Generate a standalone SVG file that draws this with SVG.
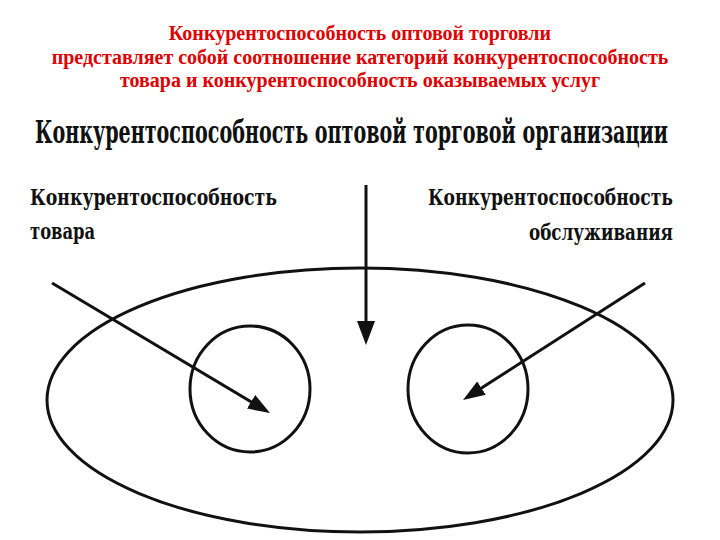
<svg xmlns="http://www.w3.org/2000/svg" width="720" height="540" viewBox="0 0 720 540">
<defs>
<style>
.title{font-family:"Liberation Serif","Times New Roman",serif;font-weight:bold;font-size:20px;fill:#e00000;text-anchor:middle}
.head{font-family:"DejaVu Serif","Liberation Serif",serif;font-weight:bold;font-stretch:condensed;font-size:32px;fill:#111}
.lbl{font-family:"DejaVu Serif","Liberation Serif",serif;font-weight:bold;font-stretch:condensed;font-size:23px;fill:#111}
.shape{fill:none;stroke:#111;stroke-width:3}
.conn{fill:none;stroke:#111;stroke-width:3}
</style>
<marker id="tri" markerUnits="userSpaceOnUse" markerWidth="22" markerHeight="18" refX="12" refY="9" orient="auto">
<path d="M0,1 L22,9 L0,17 z" fill="#111"/>
</marker>
<marker id="triLong" markerUnits="userSpaceOnUse" markerWidth="24" markerHeight="18" refX="12" refY="9" orient="auto">
<path d="M0,0 L24,9 L0,18 z" fill="#111"/>
</marker>
</defs>
<rect width="720" height="540" fill="#fff"/>
<g id="title">
<text class="title" x="360" y="40">Конкурентоспособность оптовой торговли</text>
<text class="title" x="360" y="64">представляет собой соотношение категорий конкурентоспособность</text>
<text class="title" x="360" y="87">товара и конкурентоспособность оказываемых услуг</text>
</g>
<g id="heading">
<text class="head" x="35" y="143" textLength="633" lengthAdjust="spacingAndGlyphs">Конкурентоспособность оптовой торговой организации</text>
</g>
<g id="label-goods">
<text class="lbl" x="30" y="205" textLength="247" lengthAdjust="spacingAndGlyphs">Конкурентоспособность</text>
<text class="lbl" x="30" y="239" textLength="65" lengthAdjust="spacingAndGlyphs">товара</text>
</g>
<g id="label-service">
<text class="lbl" x="428" y="205" textLength="245" lengthAdjust="spacingAndGlyphs">Конкурентоспособность</text>
<text class="lbl" x="529" y="240" textLength="144" lengthAdjust="spacingAndGlyphs">обслуживания</text>
</g>
<g id="org">
<ellipse class="shape" cx="360" cy="400" rx="313" ry="132"/>
</g>
<g id="goods">
<ellipse class="shape" cx="250" cy="389" rx="60" ry="63"/>
</g>
<g id="service">
<ellipse class="shape" cx="468" cy="389" rx="60" ry="64"/>
</g>
<g id="connectors">
<line class="conn" x1="52" y1="283" x2="261.4" y2="407.9" marker-end="url(#tri)"/>
<line class="conn" x1="366" y1="185" x2="366" y2="333" marker-end="url(#triLong)"/>
<line class="conn" x1="645" y1="283" x2="471.4" y2="394.6" marker-end="url(#tri)"/>
</g>
</svg>
